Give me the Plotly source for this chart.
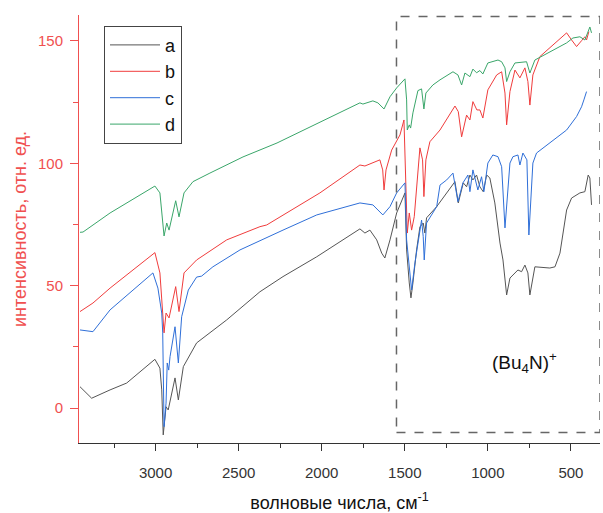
import plotly.graph_objects as go

# wavenumbers (cm-1) and intensities
wn_a = [3455, 3385, 3274, 3174, 3004, 2974, 2963, 2954, 2937, 2924, 2883, 2863, 2833, 2753, 2572,
        2372, 2233, 2030, 1770, 1740, 1710, 1669, 1639, 1620, 1589, 1549, 1499, 1489, 1473, 1463,
        1451, 1429, 1409, 1389, 1379, 1369, 1308, 1248, 1198, 1178, 1148, 1128, 1108, 1090, 1068,
        1048, 1028, 1007, 988, 958, 927, 909, 887, 867, 819, 797, 777, 759, 747, 717, 627, 596,
        566, 526, 496, 446, 416, 396, 386, 376]
int_a = [8.7, 4.0, 7.4, 10.2, 19.9, 16.3, 7.4, -11.0, 0.5, -0.8, 12.3, 3.3, 16.9, 26.6, 36.0,
         47.5, 53.7, 61.8, 73.2, 71.5, 72.7, 68.7, 63.3, 61.3, 68.7, 79.7, 87.9, 64.6, 51.1, 45.0,
         51.1, 64.6, 74.0, 75.6, 71.5, 77.7, 82.3, 87.9, 92.5, 83.8, 92.0, 90.4, 95.2, 93.2, 95.2,
         90.4, 88.4, 95.2, 94.0, 83.8, 67.4, 60.5, 46.2, 53.1, 56.4, 55.7, 58.4, 55.2, 46.2, 57.7,
         57.2, 57.7, 63.3, 80.9, 85.8, 87.9, 88.4, 95.2, 94.0, 83.0]

wn_b = [3455, 3377, 3274, 3004, 2974, 2949, 2937, 2919, 2879, 2859, 2829, 2753, 2572, 2372, 2331,
        2011, 1770, 1740, 1650, 1633, 1625, 1613, 1579, 1529, 1505, 1493, 1485, 1473, 1459, 1443,
        1409, 1393, 1385, 1373, 1349, 1288, 1198, 1178, 1158, 1128, 1108, 1090, 1066, 1048, 1030,
        1000, 947, 917, 897, 887, 867, 837, 807, 777, 759, 747, 729, 687, 526, 496, 466, 436,
        416, 406, 392]
int_b = [39.4, 42.9, 49.0, 63.5, 55.2, 30.7, 38.8, 36.8, 49.6, 39.4, 55.2, 60.5, 68.7, 74.1, 74.8,
         87.9, 99.3, 98.9, 101.4, 97.3, 89.1, 97.3, 105.4, 111.6, 117.7, 87.9, 71.5, 79.7, 72.7, 78.2,
         106.3, 101.4, 86.4, 101.4, 108.8, 113.6, 123.4, 121.1, 110.8, 119.7, 117.7, 125.2, 121.8, 121.8, 118.5,
         130.0, 136.1, 137.4, 128.7, 115.7, 129.3, 138.1, 134.9, 139.0, 133.4, 123.8, 136.1, 143.6, 153.3, 150.4,
         147.7, 150.1, 151.7, 150.4, 153.8]

wn_c = [3455, 3377, 3274, 3016, 2986, 2963, 2957, 2954, 2949, 2937, 2930, 2921, 2913, 2883, 2863,
        2843, 2803, 2753, 2723, 2655, 2492, 2233, 2030, 1770, 1692, 1632, 1589, 1549, 1499, 1489,
        1473, 1459, 1439, 1419, 1399, 1389, 1383, 1369, 1308, 1288, 1248, 1210, 1180, 1150, 1120,
        1108, 1090, 1060, 1038, 1024, 1000, 970, 939, 917, 897, 867, 849, 819, 807, 789, 765, 753,
        729, 707, 627, 526, 466, 436, 422, 406]
int_c = [31.9, 31.2, 40.1, 55.2, 49.0, 38.8, 30.7, 2.0, -7.6, 2.0, 18.4, 15.5, 21.0, 33.2, 18.4,
         37.3, 48.2, 53.5, 53.9, 57.7, 64.6, 72.7, 78.9, 83.8, 83.0, 78.9, 82.3, 87.9, 92.0, 68.7,
         56.4, 48.2, 59.3, 67.4, 76.8, 70.0, 60.5, 75.6, 82.3, 91.1, 93.2, 96.0, 84.3, 92.0, 95.2,
         88.4, 97.3, 89.1, 94.5, 88.4, 100.1, 103.4, 102.7, 98.6, 73.6, 100.1, 102.7, 103.4, 99.3, 104.2,
         101.4, 70.7, 100.1, 104.2, 108.3, 113.6, 119.1, 123.1, 125.9, 129.3]

wn_d = [3455, 3437, 3274, 3004, 2974, 2949, 2933, 2919, 2879, 2859, 2829, 2775, 2673, 2474, 2269,
        2011, 1770, 1752, 1692, 1662, 1625, 1589, 1549, 1499, 1489, 1485, 1473, 1465, 1451, 1421,
        1399, 1385, 1373, 1331, 1288, 1210, 1180, 1158, 1138, 1108, 1090, 1068, 1048, 1030, 1000,
        939, 917, 897, 887, 867, 837, 767, 747, 717, 627, 526, 488, 446, 416, 386, 376]
int_d = [71.8, 71.9, 79.7, 90.7, 87.9, 70.3, 75.6, 72.7, 84.7, 78.1, 87.9, 92.5, 96.0, 102.6, 108.3,
         116.9, 124.7, 124.2, 125.5, 124.7, 122.2, 127.2, 130.8, 134.5, 125.9, 113.6, 115.7, 114.4, 120.6, 129.7,
         130.4, 122.2, 128.7, 132.0, 134.1, 137.4, 136.1, 132.0, 136.9, 135.4, 138.5, 137.0, 137.9, 136.5, 141.0,
         142.2, 141.5, 139.0, 133.4, 137.4, 141.0, 141.5, 136.9, 142.2, 145.6, 149.2, 151.2, 151.7, 150.4, 155.7,
         153.3]

x_ticks = [3000, 2500, 2000, 1500, 1000, 500]
x_minor = [3250, 2750, 2250, 1750, 1250, 750]
y_ticks = [0, 50, 100, 150]
y_minor = [25, 75, 125]

series = [
    ('a', wn_a, int_a, '#555555'),
    ('b', wn_b, int_b, '#f03c3c'),
    ('c', wn_c, int_c, '#2f6fd8'),
    ('d', wn_d, int_d, '#3aa66a'),
]

RED = '#f05050'
FONT = 'Liberation Sans, Arial, sans-serif'

fig = go.Figure()
for name, x, y, color in series:
    fig.add_trace(go.Scatter(x=x, y=y, mode='lines', name=name,
                             line=dict(color=color, width=1)))

# dashed frame around the (Bu4N)+ region
fig.add_shape(type='rect', x0=1550, x1=325, y0=-10, y1=160, xref='x', yref='y',
              line=dict(color='#666666', width=1.5, dash='dash'))

fig.add_annotation(x=780, y=18.8, text='(Bu<sub>4</sub>N)<sup>+</sup>', showarrow=False,
                   font=dict(size=19, color='#111111', family=FONT))

fig.update_layout(
    width=603, height=513,
    margin=dict(l=79, r=3, t=15, b=70),
    plot_bgcolor='white', paper_bgcolor='white',
    font=dict(family=FONT),
    showlegend=True,
    legend=dict(x=0.048, y=0.975, xanchor='left', yanchor='top',
                bordercolor='#444444', borderwidth=1, bgcolor='white',
                itemwidth=50, font=dict(size=18, color='#111111'), tracegroupgap=0),
)

fig.update_xaxes(
    range=[3461, 325], autorange=False, automargin=False,
    showline=True, linecolor='#333333', linewidth=1,
    showgrid=False, zeroline=False,
    tickmode='array', tickvals=x_ticks,
    ticks='outside', ticklen=7, tickcolor='#333333',
    minor=dict(tickmode='array', tickvals=x_minor,
               ticks='outside', ticklen=4, tickcolor='#333333'),
    tickfont=dict(size=15, color='#333333'),
    ticklabelstandoff=9,
    title=dict(text='волновые числа, см<sup>-1</sup>', font=dict(size=18, color='#111111'), standoff=17),
)

fig.update_yaxes(
    range=[-14.3, 160.6], autorange=False, automargin=False,
    showline=True, linecolor=RED, linewidth=1,
    showgrid=False, zeroline=False,
    tickmode='array', tickvals=y_ticks,
    ticks='outside', ticklen=8, tickcolor=RED,
    minor=dict(tickmode='array', tickvals=y_minor,
               ticks='outside', ticklen=5, tickcolor=RED),
    tickfont=dict(size=15, color=RED),
    ticklabelstandoff=4,
    title=dict(text='интенсивность, отн. ед.', font=dict(size=18, color=RED), standoff=6),
)

# drop the page's default body margin so the figure sits at the window's corner
fig.write_html('out.html', config={'displayModeBar': False},
               post_script="document.body.style.margin='0';")
